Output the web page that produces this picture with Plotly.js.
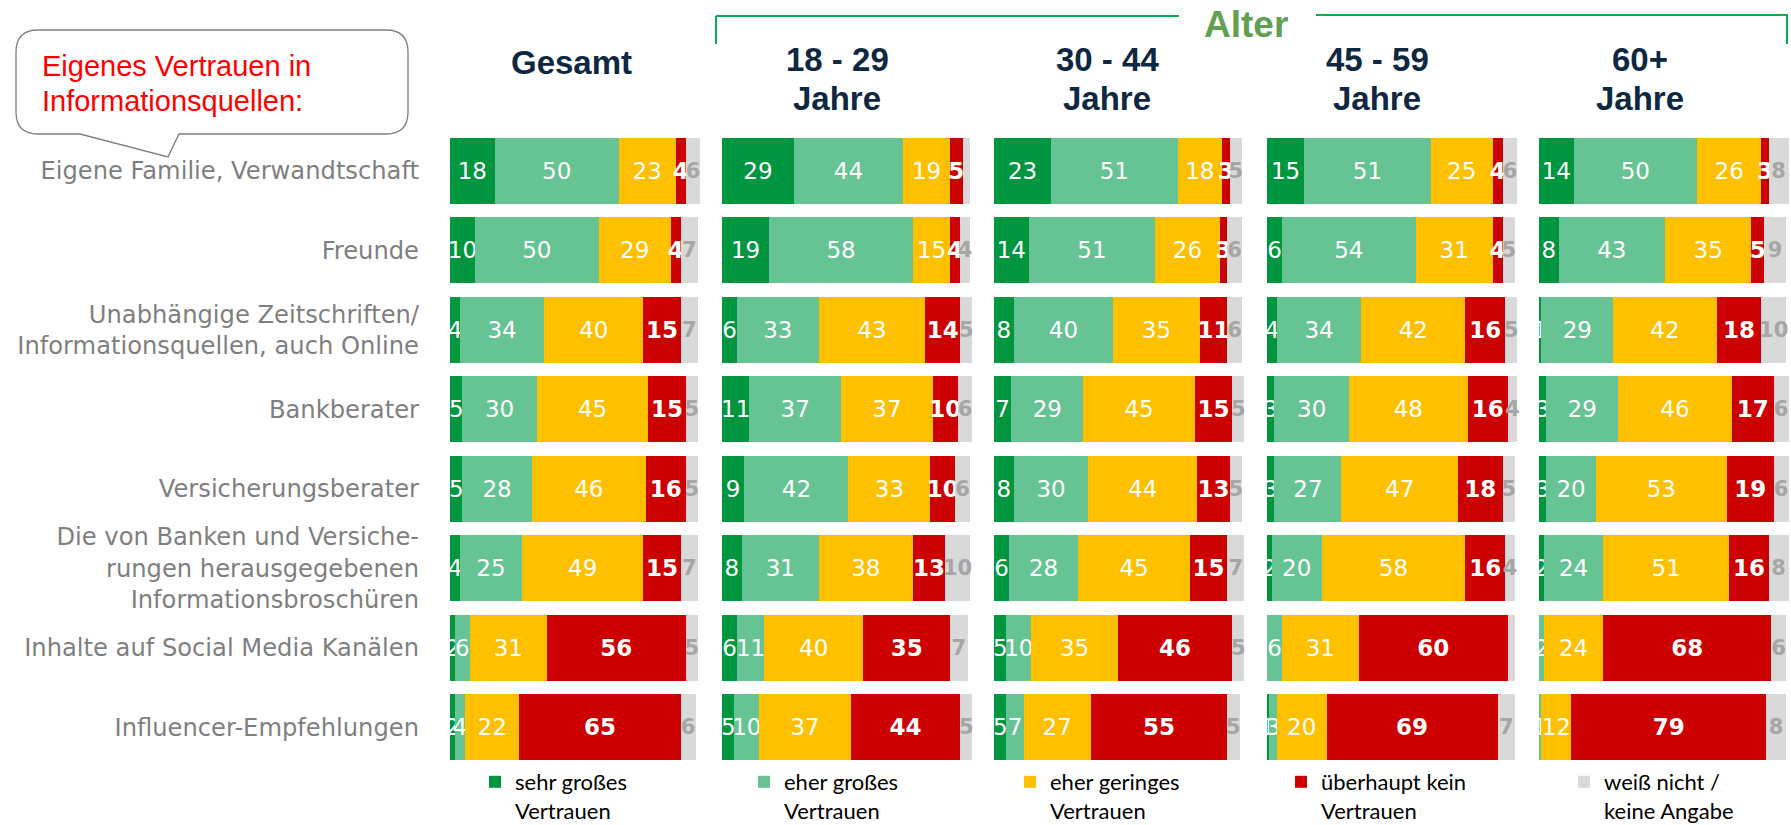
<!DOCTYPE html>
<html><head><meta charset="utf-8">
<script src="https://cdn.plot.ly/plotly-3.0.1.min.js"></script>
<style>html,body{margin:0;padding:0;background:#fff}</style>
</head><body><div id="chart" style="width:1791px;height:825px"></div>
<script>
// ---------- DATA ----------
const categories = [
  'Eigene Familie, Verwandtschaft',
  'Freunde',
  'Unabhängige Zeitschriften/<br>Informationsquellen, auch Online',
  'Bankberater',
  'Versicherungsberater',
  'Die von Banken und Versiche-<br>rungen herausgegebenen<br>Informationsbroschüren',
  'Inhalte auf Social Media Kanälen',
  'Influencer-Empfehlungen'
];
const panelTitles = [['Gesamt'], ['18 - 29', 'Jahre'], ['30 - 44', 'Jahre'], ['45 - 59', 'Jahre'], ['60+', 'Jahre']];
const seriesNames = ['sehr großes<br>Vertrauen', 'eher großes<br>Vertrauen', 'eher geringes<br>Vertrauen', 'überhaupt kein<br>Vertrauen', 'weiß nicht /<br>keine Angabe'];
const groupTitle = 'Alter';
const bubbleLines = ['Eigenes Vertrauen in', 'Informationsquellen:'];

// Gesamt
const gesamt_sehrGross   = [18, 10, 4, 5, 5, 4, 2, 2];
const gesamt_eherGross   = [50, 50, 34, 30, 28, 25, 6, 4];
const gesamt_eherGering  = [23, 29, 40, 45, 46, 49, 31, 22];
const gesamt_kein        = [4, 4, 15, 15, 16, 15, 56, 65];
const gesamt_weissNicht  = [6, 7, 7, 5, 5, 7, 5, 6];
// 18 - 29
const a1829_sehrGross    = [29, 19, 6, 11, 9, 8, 6, 5];
const a1829_eherGross    = [44, 58, 33, 37, 42, 31, 11, 10];
const a1829_eherGering   = [19, 15, 43, 37, 33, 38, 40, 37];
const a1829_kein         = [5, 4, 14, 10, 10, 13, 35, 44];
const a1829_weissNicht   = [3, 4, 5, 6, 6, 10, 7, 5];
// 30 - 44
const a3044_sehrGross    = [23, 14, 8, 7, 8, 6, 5, 5];
const a3044_eherGross    = [51, 51, 40, 29, 30, 28, 10, 7];
const a3044_eherGering   = [18, 26, 35, 45, 44, 45, 35, 27];
const a3044_kein         = [3, 3, 11, 15, 13, 15, 46, 55];
const a3044_weissNicht   = [5, 6, 6, 5, 5, 7, 5, 5];
// 45 - 59
const a4559_sehrGross    = [15, 6, 4, 3, 3, 2, 0, 1];
const a4559_eherGross    = [51, 54, 34, 30, 27, 20, 6, 3];
const a4559_eherGering   = [25, 31, 42, 48, 47, 58, 31, 20];
const a4559_kein         = [4, 4, 16, 16, 18, 16, 60, 69];
const a4559_weissNicht   = [6, 5, 5, 4, 5, 4, 3, 7];
// 60+
const a60_sehrGross      = [14, 8, 1, 3, 3, 2, 0, 0];
const a60_eherGross      = [50, 43, 29, 29, 20, 24, 2, 1];
const a60_eherGering     = [26, 35, 42, 46, 53, 51, 24, 12];
const a60_kein           = [3, 5, 18, 17, 19, 16, 68, 79];
const a60_weissNicht     = [8, 9, 10, 6, 6, 8, 6, 8];

// labels not printed in the original: [panel, category, series]
const hiddenLabels = [[1, 0, 4], [3, 6, 4]];

// ---------- STYLE / LAYOUT ----------
const panelData = [
  [gesamt_sehrGross, gesamt_eherGross, gesamt_eherGering, gesamt_kein, gesamt_weissNicht],
  [a1829_sehrGross, a1829_eherGross, a1829_eherGering, a1829_kein, a1829_weissNicht],
  [a3044_sehrGross, a3044_eherGross, a3044_eherGering, a3044_kein, a3044_weissNicht],
  [a4559_sehrGross, a4559_eherGross, a4559_eherGering, a4559_kein, a4559_weissNicht],
  [a60_sehrGross, a60_eherGross, a60_eherGering, a60_kein, a60_weissNicht]
];
const colors = ['#009640', '#66C393', '#FFC000', '#CC0000', '#D9D9D9'];
const labelFonts = [
  {color: '#FFFFFF', weight: 'normal', size: 23},
  {color: '#FFFFFF', weight: 'normal', size: 23},
  {color: '#FFFFFF', weight: 'normal', size: 23},
  {color: '#FFFFFF', weight: 'bold', size: 23},
  {color: '#A6A6A6', weight: 'bold', size: 21}
];

const W = 1791, H = 825;
const ML = 450, MR = 0, MT = 131, MB = 58;
const PW = W - ML - MR, PH = H - MT - MB;
const px = p => (p - ML) / PW;
const py = p => (MT + PH - p) / PH;

const panelStarts = [450, 722, 994, 1267, 1539];
const unitPx = 2.48;          // pixels per percentage point
const xMax = 102;
const titleCenters = [571, 837, 1107, 1377, 1640];
const legendSquares = [493, 762, 1028, 1299, 1582];

const traces = [];
panelData.forEach((series, i) => {
  const ax = i === 0 ? 'x' : 'x' + (i + 1);
  series.forEach((vals, j) => {
    const text = vals.map((v, k) =>
      (v === 0 || hiddenLabels.some(h => h[0] === i && h[1] === k && h[2] === j)) ? '' : String(v));
    traces.push({
      type: 'bar', orientation: 'h',
      x: vals, y: categories,
      xaxis: ax, yaxis: 'y',
      name: seriesNames[j],
      marker: {color: colors[j], line: {width: 0}},
      text: text, textposition: 'inside', insidetextanchor: 'middle',
      textangle: 0, constraintext: 'none', cliponaxis: false,
      textfont: Object.assign({family: 'DejaVu Sans'}, labelFonts[j]),
      hoverinfo: 'skip',
      showlegend: i === 0,
      legend: j === 0 ? 'legend' : 'legend' + (j + 1)
    });
  });
});

const layout = {
  width: W, height: H,
  margin: {l: ML, r: MR, t: MT, b: MB, autoexpand: false},
  paper_bgcolor: '#fff', plot_bgcolor: 'rgba(0,0,0,0)',
  barmode: 'stack', bargap: 0.17,
  font: {family: 'DejaVu Sans'},
  yaxis: {
    type: 'category', autorange: 'reversed',
    showgrid: false, zeroline: false, showline: false, ticks: '',
    ticklabelstandoff: 30,
    tickfont: {family: 'DejaVu Sans', size: 24.2, color: '#7F7F7F'},
    fixedrange: true
  },
  annotations: [], shapes: []
};
panelStarts.forEach((s, i) => {
  const key = i === 0 ? 'xaxis' : 'xaxis' + (i + 1);
  layout[key] = {
    domain: [px(s), Math.min(1, px(s + unitPx * xMax))],
    range: [0, xMax], visible: false, anchor: 'y', fixedrange: true
  };
});
// legends
legendSquares.forEach((s, j) => {
  const key = j === 0 ? 'legend' : 'legend' + (j + 1);
  layout[key] = {
    x: px(s - 18), xanchor: 'left',
    y: py(761), yanchor: 'top',
    orientation: 'v', bgcolor: 'rgba(0,0,0,0)',
    font: {family: 'Lato', size: 22, color: '#000'},
    valign: 'top', itemwidth: 30
  };
});
// panel titles
panelTitles.forEach((lines, i) => {
  const ys = lines.length === 1 ? [62] : [60, 98];
  lines.forEach((t, k) => {
    layout.annotations.push({
      xref: 'paper', yref: 'paper', x: px(titleCenters[i]), y: py(ys[k]),
      xanchor: 'center', yanchor: 'middle', showarrow: false, text: t,
      font: {family: 'Liberation Sans', size: 33, color: '#0E2841', weight: 'bold'}
    });
  });
});
// Alter header
layout.annotations.push({
  xref: 'paper', yref: 'paper', x: px(1246), y: py(25), xanchor: 'center', yanchor: 'middle',
  showarrow: false, text: groupTitle,
  font: {family: 'Liberation Sans', size: 37, color: '#60A050', weight: 'bold'}
});
const green = '#00B050';
const seg = (x0, y0, x1, y1) => ({type: 'line', xref: 'paper', yref: 'paper',
  x0: px(x0), y0: py(y0), x1: px(x1), y1: py(y1), line: {color: green, width: 2}});
layout.shapes.push(seg(716, 16, 1179, 16), seg(1316, 15, 1788, 15),
  seg(716, 16, 716, 44), seg(1787, 15, 1787, 44));
// speech bubble
const P = (x, y) => px(x).toFixed(5) + ',' + py(y).toFixed(5);
const bubblePath = 'M' + P(38, 30) + ' L' + P(386, 30) + ' Q' + P(408, 30) + ' ' + P(408, 52) +
  ' L' + P(408, 112) + ' Q' + P(408, 134) + ' ' + P(386, 134) + ' L' + P(179, 134) +
  ' L' + P(168, 157) + ' L' + P(80, 134) + ' L' + P(38, 134) + ' Q' + P(16, 134) + ' ' + P(16, 112) +
  ' L' + P(16, 52) + ' Q' + P(16, 30) + ' ' + P(38, 30) + ' Z';
layout.shapes.push({type: 'path', xref: 'paper', yref: 'paper', path: bubblePath,
  fillcolor: '#FFFFFF', line: {color: '#7F7F7F', width: 1.3}, layer: 'above'});
bubbleLines.forEach((t, k) => {
  layout.annotations.push({
    xref: 'paper', yref: 'paper', x: px(40), y: py(k === 0 ? 66 : 101), xanchor: 'left', yanchor: 'middle',
    showarrow: false, text: t, font: {family: 'Liberation Sans', size: 29, color: '#FF0000'}
  });
});

Plotly.newPlot('chart', traces, layout, {staticPlot: true, displayModeBar: false});
</script></body></html>
